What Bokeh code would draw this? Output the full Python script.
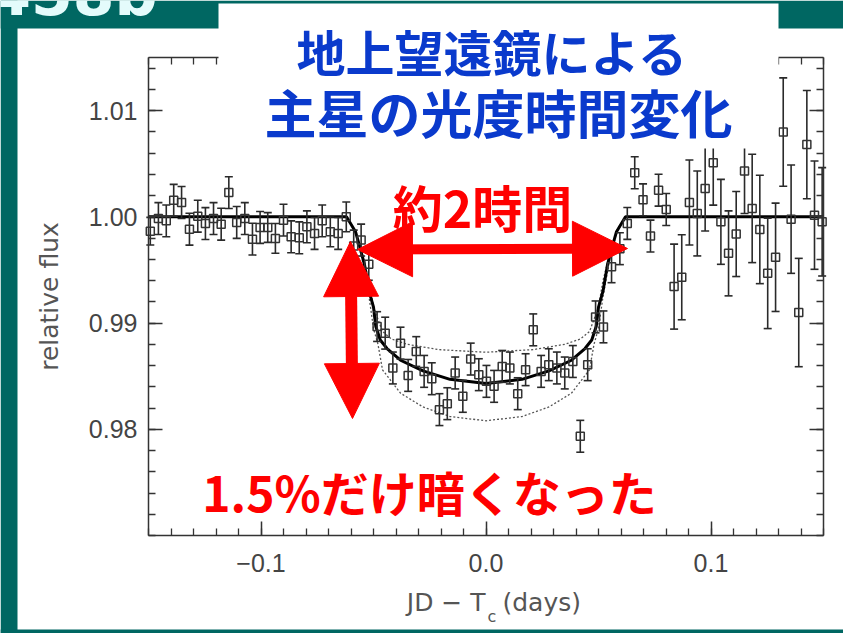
import numpy as np
from bokeh.plotting import figure
from bokeh.models import (Range1d, LinearAxis, FixedTicker, CustomJSTickFormatter,
                          Label, Arrow, NormalHead, BoxAnnotation, ColumnDataSource)
from bokeh.embed import file_html
from bokeh.resources import INLINE

# ---------------- data ----------------
time = [-0.1492, -0.1456, -0.1421, -0.1388, -0.1353, -0.1318, -0.1281, -0.1247, -0.1211, -0.1177,
        -0.1143, -0.1108, -0.1072, -0.1038, -0.1004, -0.0970, -0.0936, -0.0900, -0.0866, -0.0830,
        -0.0796, -0.0762, -0.0728, -0.0692, -0.0657, -0.0621, -0.0588, -0.0555, -0.0521,
        -0.0484, -0.0448, -0.0414, -0.0380, -0.0346, -0.0310, -0.0275, -0.0241, -0.0207, -0.0172,
        -0.0137, -0.0103, -0.0068, -0.0032, 0.0002, 0.0036, 0.0072, 0.0106, 0.0141, 0.0176,
        0.0210, 0.0245, 0.0279, 0.0315, 0.0350, 0.0386, 0.0419, 0.0452, 0.0487, 0.0522,
        0.0558, 0.0595, 0.0628, 0.0661, 0.0698, 0.0731, 0.0767, 0.0801,
        0.0836, 0.0870, 0.0904, 0.0939, 0.0974, 0.1010, 0.1044, 0.1078, 0.1112, 0.1149,
        0.1183, 0.1217, 0.1252, 0.1287, 0.1321, 0.1356, 0.1390, 0.1426, 0.1460, 0.1494]
flux = [0.99865, 0.99984, 0.99962, 1.00156, 1.00135, 0.99884, 1.00006, 0.99937, 0.99984, 0.99931,
        1.00228, 0.99947, 0.99984, 0.99790, 0.99900, 0.99900, 0.99797, 0.99969, 0.99812, 0.99803,
        0.99906, 0.99844, 0.99962, 0.99859, 0.99844, 1.00000, 0.99725, 0.99781, 0.99553,
        0.98967, 0.98905, 0.98577, 0.98811, 0.98507, 0.98732, 0.98545, 0.98476, 0.98185, 0.98241,
        0.98530, 0.98310, 0.98661, 0.98514, 0.98451, 0.98404, 0.98592, 0.98577, 0.98335, 0.98561,
        0.98936, 0.98545, 0.98608, 0.98577, 0.98530, 0.98638, 0.97934, 0.98608, 0.99058, 0.98964,
        0.99530, 0.99700, 0.99938, 1.00415, 1.00160, 0.99819, 1.00251, 1.00069,
        0.99343, 0.99431, 1.00135, 1.00032, 1.00266, 1.00510, 0.99953, 0.99656, 0.99838, 1.00432,
        1.00079, 0.99881, 0.99468, 0.99619, 1.00798, 0.99978, 0.99099, 1.00680, 1.00016, 0.99953]
flux_err = [0.0013, 0.0015, 0.0015, 0.0015, 0.0015, 0.0015, 0.0015, 0.0015, 0.0015, 0.0015,
            0.0015, 0.0015, 0.0015, 0.0015, 0.0015, 0.0014, 0.0014, 0.0015, 0.0015, 0.0015,
            0.0015, 0.0015, 0.0015, 0.0014, 0.0015, 0.0014, 0.0015, 0.0015, 0.0015,
            0.0014, 0.0015, 0.0015, 0.0015, 0.0015, 0.0014, 0.0015, 0.0015, 0.0015, 0.0015,
            0.0015, 0.0015, 0.0015, 0.0015, 0.0015, 0.0015, 0.0015, 0.0015, 0.0015, 0.0015,
            0.0015, 0.0015, 0.0015, 0.0015, 0.0015, 0.0015, 0.0015, 0.0015, 0.0015, 0.0015,
            0.0015, 0.0015, 0.0015, 0.0015, 0.0015, 0.0015, 0.0015, 0.0015,
            0.0040, 0.0040, 0.0040, 0.0040, 0.0040, 0.0040, 0.0040, 0.0040, 0.0040, 0.0040,
            0.0051, 0.0051, 0.0052, 0.0051, 0.0051, 0.0051, 0.0051, 0.0051, 0.0051, 0.0051]

model_t = [-0.15, -0.062, -0.058, -0.056, -0.054, -0.052, -0.050, -0.049, -0.047, -0.044,
           -0.038, -0.028, -0.016, 0.0, 0.016, 0.028, 0.038, 0.044, 0.047, 0.049,
           0.050, 0.052, 0.054, 0.056, 0.058, 0.062, 0.15]
model_f = [1.0, 1.0, 0.9986, 0.9971, 0.9955, 0.9930, 0.9915, 0.9897, 0.9884, 0.9876,
           0.9865, 0.9855, 0.9847, 0.9843, 0.9847, 0.9855, 0.9865, 0.9876, 0.9884, 0.9897,
           0.9915, 0.9930, 0.9955, 0.9971, 0.9986, 1.0, 1.0]

shallow_t = [-0.15, -0.062, -0.058, -0.055, -0.052, -0.050, -0.046, -0.042, -0.035, -0.021,
             0.0, 0.021, 0.035, 0.042, 0.046, 0.050, 0.052, 0.055, 0.058, 0.062, 0.15]
shallow_f = [1.0, 1.0, 0.9987, 0.9965, 0.9940, 0.9915, 0.9892, 0.9885, 0.9880, 0.9875,
             0.98725, 0.9875, 0.9880, 0.9885, 0.9892, 0.9915, 0.9940, 0.9965, 0.9987, 1.0, 1.0]

deep_t = [-0.15, -0.062, -0.058, -0.055, -0.052, -0.050, -0.048, -0.046, -0.042, -0.038,
          -0.028, -0.016, 0.0, 0.016, 0.028, 0.038, 0.042, 0.046, 0.048, 0.050,
          0.052, 0.055, 0.058, 0.062, 0.15]
deep_f = [1.0, 1.0, 0.9985, 0.9960, 0.9925, 0.9895, 0.9880, 0.9856, 0.9845, 0.9834,
          0.9821, 0.9812, 0.9808, 0.9812, 0.9821, 0.9834, 0.9845, 0.9856, 0.9880, 0.9895,
          0.9925, 0.9960, 0.9985, 1.0, 1.0]

x_ticks = [-0.1, 0.0, 0.1]
x_tick_labels = ["\u22120.1", "0.0", "0.1"]
y_ticks = [0.98, 0.99, 1.00, 1.01]
y_tick_labels = ["0.98", "0.99", "1.00", "1.01"]

title_lines = ["地上望遠鏡による", "主星の光度時間変化"]
duration_text = "約2時間"
depth_text = "1.5%だけ暗くなった"
planet_name = "HD209458b"
y_label = "relative flux"

# ---------------- geometry (screen px -> data) ----------------
W, H = 843, 633
FL, FR, FT, FB = 148, 823, 57, 535          # where the axes box sits
X0, X1, Y0, Y1 = -0.15, 0.15, 0.970, 1.015  # axes box limits
def X(px):
    return X0 + (px - FL) * (X1 - X0) / (FR - FL)
def Y(py):
    return Y1 - (py - FT) * (Y1 - Y0) / (FB - FT)

TEAL = "#006762"
RED = "#ff0000"
BLUE = "#0a3acc"
GRAY = "#444444"
LBL = "#555555"

# the frame fills the whole canvas; axes are pinned at the box edges
p = figure(width=W, height=H, output_backend="svg", toolbar_location=None,
           x_range=Range1d(X(0), X(W)), y_range=Range1d(Y(H), Y(0)),
           x_axis_location=None, y_axis_location=None,
           min_border=0)
p.grid.visible = False
p.outline_line_color = None
p.background_fill_color = "white"
p.border_fill_color = "white"

def fmt(ticks, labels):
    return CustomJSTickFormatter(args=dict(tv=ticks, tl=labels), code="""
        for (let i = 0; i < tv.length; i++) {
            if (Math.abs(tick - tv[i]) < 1e-9) return tl[i];
        }
        return '';
    """)

x_minor = [float(v) for v in np.round(np.arange(-15, 16) * 0.01, 3)]
y_minor = [float(v) for v in np.round(np.arange(485, 508) * 0.002, 3)]

def make_axis(ticks, minor, labels, loc, bounds):
    ax = LinearAxis(ticker=FixedTicker(ticks=ticks, minor_ticks=minor),
                    formatter=fmt(ticks, labels), fixed_location=loc, bounds=bounds)
    ax.major_tick_in = 14
    ax.major_tick_out = 0
    ax.minor_tick_in = 7
    ax.minor_tick_out = 0
    ax.axis_line_color = "#333333"
    ax.axis_line_width = 1.5
    ax.major_tick_line_color = "#333333"
    ax.major_tick_line_width = 1.5
    ax.minor_tick_line_color = "#333333"
    ax.minor_tick_line_width = 1.3
    ax.major_label_text_font = "Liberation Sans"
    ax.major_label_text_font_size = "25px"
    ax.major_label_text_color = GRAY
    return ax

ax_b = make_axis(x_ticks, x_minor, x_tick_labels, Y0, (X0, X1))
ax_b.major_label_standoff = 18
ax_t = make_axis(x_ticks, x_minor, ["", "", ""], Y1, (X0, X1))
ax_l = make_axis(y_ticks, y_minor, y_tick_labels, X0, (Y0, Y1))
ax_l.major_label_standoff = 11
ax_l.axis_label = y_label
ax_l.axis_label_standoff = 22
ax_l.axis_label_text_font = "DejaVu Sans"
ax_l.axis_label_text_font_size = "25px"
ax_l.axis_label_text_font_style = "normal"
ax_l.axis_label_text_color = LBL
ax_r = make_axis(y_ticks, y_minor, ["", "", "", ""], X1, (Y0, Y1))
p.add_layout(ax_b, "below")
p.add_layout(ax_t, "above")
p.add_layout(ax_l, "left")
p.add_layout(ax_r, "right")

# ---------------- models ----------------
p.line(shallow_t, shallow_f, line_color="#555555", line_width=1.3, line_dash="2 2")
p.line(deep_t, deep_f, line_color="#555555", line_width=1.3, line_dash="2 2")
p.line(model_t, model_f, line_color="black", line_width=3)

# ---------------- data points ----------------
f = np.array(flux)
e = np.array(flux_err)
src = ColumnDataSource(dict(t=time, f=flux, lo=list(f - e), hi=list(f + e)))
p.segment(x0="t", y0="lo", x1="t", y1="hi", source=src, line_color="#2a2a2a", line_width=1.6)
p.scatter(x="t", y="lo", source=src, marker="dash", size=8, line_color="#2a2a2a", line_width=1.6)
p.scatter(x="t", y="hi", source=src, marker="dash", size=8, line_color="#2a2a2a", line_width=1.6)
p.scatter(x="t", y="f", source=src, marker="square", size=8, fill_color=None,
          line_color="#333333", line_width=1.5)

# ---------------- slide frame ----------------
for (l, r, t, b) in [(0, 17, 0, H), (0, W, 0, 28), (0, W, 629, H)]:
    p.add_layout(BoxAnnotation(left=X(l), right=X(r), top=Y(t), bottom=Y(b),
                               fill_color=TEAL, fill_alpha=1.0, line_color=None))
p.add_layout(BoxAnnotation(left=X(218), right=X(778), top=Y(3), bottom=Y(148),
                           fill_color="white", fill_alpha=1.0, line_color=None))

p.add_layout(Label(x=X(157), y=Y(-7), text=planet_name, text_align="right",
                   text_baseline="alphabetic", text_font="DejaVu Sans", text_font_style="bold",
                   text_font_size="60px", text_color="#e4fbfb"))

p.add_layout(Label(x=X(492), y=Y(50), text=title_lines[0], text_align="center",
                   text_baseline="middle", text_font="Noto Sans CJK JP", text_font_style="bold",
                   text_font_size="49px", text_color=BLUE))
p.add_layout(Label(x=X(498), y=Y(111), text=title_lines[1], text_align="center",
                   text_baseline="middle", text_font="Noto Sans CJK JP", text_font_style="bold",
                   text_font_size="52px", text_color=BLUE))

# x axis title with subscript
p.add_layout(Label(x=X(485), y=Y(602), text="JD \u2212 T", text_align="right",
                   text_baseline="middle", text_font="DejaVu Sans",
                   text_font_size="25px", text_color=LBL))
p.add_layout(Label(x=X(487), y=Y(616), text="c", text_align="left",
                   text_baseline="middle", text_font="DejaVu Sans",
                   text_font_size="16px", text_color=LBL))
p.add_layout(Label(x=X(502), y=Y(602), text="(days)", text_align="left",
                   text_baseline="middle", text_font="DejaVu Sans",
                   text_font_size="25px", text_color=LBL))

# ---------------- red annotations ----------------
def head():
    return NormalHead(size=55, fill_color=RED, line_color=RED, line_width=1)

p.add_layout(Arrow(start=head(), end=head(), x_start=X(357), y_start=Y(249),
                   x_end=X(627), y_end=Y(248), line_color=RED, line_width=10))
p.add_layout(Arrow(start=head(), end=head(), x_start=X(350), y_start=Y(241),
                   x_end=X(352), y_end=Y(418), line_color=RED, line_width=12))

p.add_layout(Label(x=X(482), y=Y(205), text=duration_text, text_align="center",
                   text_baseline="middle", text_font="Noto Sans CJK JP", text_font_style="bold",
                   text_font_size="50px", text_color=RED))
p.add_layout(Label(x=X(429), y=Y(490), text=depth_text, text_align="center",
                   text_baseline="middle", text_font="Noto Sans CJK JP", text_font_style="bold",
                   text_font_size="48px", text_color=RED))

html = file_html(p, INLINE, title="transit light curve")
html = html.replace("</head>",
                    "<style>html,body{margin:0;padding:0;overflow:hidden;}</style></head>", 1)
open("out.html", "w").write(html)
